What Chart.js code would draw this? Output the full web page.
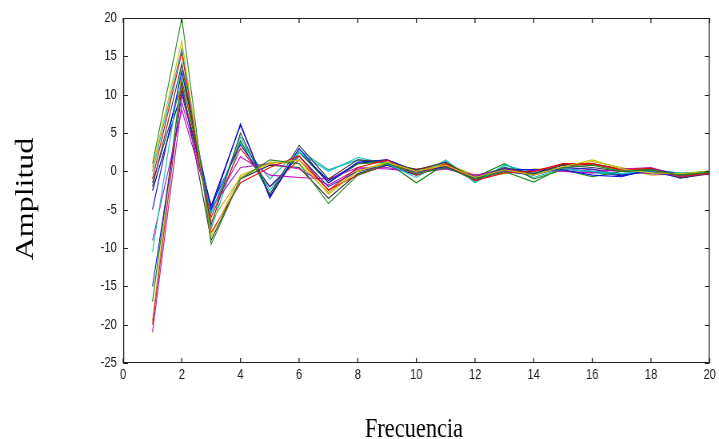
<!DOCTYPE html>
<html>
<head>
<meta charset="utf-8">
<script src="https://cdn.jsdelivr.net/npm/chart.js@4"></script>
<style>
html,body{margin:0;padding:0;background:#fff;overflow:hidden;}
#c{display:block;width:719px;height:439px;}
</style>
</head>
<body>
<canvas id="c" width="899" height="439" style="width:719px;height:439px;"></canvas>
<script>
const frequencies = [1,2,3,4,5,6,7,8,9,10,11,12,13,14,15,16,17,18,19,20];
const xTicks = [0,2,4,6,8,10,12,14,16,18,20];
const yTicks = [-25,-20,-15,-10,-5,0,5,10,15,20];
const xTitle = 'Frecuencia';
const yTitle = 'Amplitud';

const s1  = [1, 20, -9.5, -1, 1.5, 1, -4.2, -0.5, 1, -0.3, 0.5, -1, 0, -1.4, 0.5, 0.8, 0, 0.2, -0.5, -0.1];
const s2  = [0.5, 17, -8.5, -0.5, 1, 1.5, -3, 0, 1.2, 0, 0.8, -0.8, 0.2, -0.5, 0.6, 1.5, 0.3, -0.2, -0.3, 0];
const s3  = [-1, 15.5, -8, -1.5, 0.5, 2, -2.5, 0.5, 1.5, -0.5, 1, -1.2, -0.2, 0, 1, 1, 0.2, 0.4, -0.7, -0.2];
const s4  = [-2, 14, -7, 5, -3, 3.4, -1, 1.5, 1.2, 0.2, 1.2, -1, 0.5, -0.3, 0.8, 0.5, 0, 0.2, -0.5, -0.3];
const s5  = [-5, 13, -5, 6.2, -3.5, 3, -1.5, 1.2, 1.5, 0, 0.5, -0.8, 0.3, 0.2, 0.2, -0.5, -0.7, 0.3, -0.4, -0.3];
const s6  = [-10.5, 14, -5.5, 4.5, -2.5, 2.5, 0, 1.8, 1, -0.8, 1.5, -1.5, 0.8, -0.2, 0.3, 0, -0.3, 0.1, -0.2, -0.1];
const s7  = [-9, 8, -5, 1.9, -0.5, -0.8, -1, 0.5, 0.3, 0, 0.4, -0.5, 0, 0.2, 0, -0.2, 0.3, 0.5, -0.6, -0.3];
const s8  = [-15, 10, -4.5, 3.5, -2, 2, -2, 0, 0.8, -0.5, 0.8, -1, 0, -0.5, 0.5, 0.3, -0.5, 0, -0.8, -0.2];
const s9  = [-17, 12, -5.5, 4, -3, 2.5, -1.5, 1, 1.2, -1.5, 1, -0.8, 1, -1, 0.2, -0.7, 0, 0.3, -0.3, 0];
const s10 = [-20, 11, -6, 3, -2, 1.5, -2.4, -0.5, 0.8, 0.3, 0.6, -1, 0.2, 0, 0.8, 0.9, 0.2, 0.3, -0.5, -0.4];
const s11 = [-21, 9, -4.8, 0.5, 1, 0.3, -1.8, 0.3, 0.5, -0.2, 0.3, -0.6, 0.4, -0.2, 0.5, 0.2, 0, -0.3, -0.5, -0.2];
const s12 = [-19.5, 13, -6.5, -0.8, 1.2, 1, -2.8, 0.2, 1, 0.2, 1, -0.5, -0.3, 0.3, 0.3, 1.3, 0.5, -0.5, -0.3, -0.1];
const s13 = [-1.5, 11.5, -9, -1, 0.8, 0.5, -3.5, -0.3, 0.8, 0, 0.7, -1.2, 0.1, -0.4, 0.9, 1, 0.3, 0.2, -0.9, -0.3];
const s14 = [0, 16, -7.5, 3.8, -1, 2.8, 0.2, 1.5, 1, -0.3, 1.3, -1.3, 0.6, -0.8, 0.4, -0.2, -0.4, 0, -0.4, 0];
const s15 = [-2.5, 10.5, -4.5, 6, -3.3, 2.5, -1.2, 1, 1.5, 0, 0.6, -0.9, 0.2, 0.1, 0.3, 0, -0.6, 0.2, -0.4, -0.3];

const seriesList = [s1,s2,s3,s4,s5,s6,s7,s8,s9,s10,s11,s12,s13,s14,s15];
const colors = ['#2a8a2a','#c8c000','#e01010','#404040','#1010e0','#10c0c0','#c010c0','#2020c0','#108010','#d02020','#b020b0','#c0b020','#303030','#20b0b0','#000090'];

const datasets = seriesList.map((s,i)=>({
  data: s.map((v,j)=>({x: frequencies[j], y: v})),
  borderColor: colors[i % colors.length],
  borderWidth: 1.15,
  pointRadius: 0,
  fill: false,
  tension: 0
}));

const boxPlugin = {
  id: 'box',
  afterDatasetsDraw(chart){
    const {ctx, chartArea:a, scales:{x,y}} = chart;
    ctx.save();
    ctx.strokeStyle = '#202020';
    ctx.lineWidth = 1.3;
    ctx.beginPath();
    ctx.moveTo(a.left+0.6, a.top); ctx.lineTo(a.left+0.6, a.bottom);
    ctx.moveTo(a.right-0.6, a.top); ctx.lineTo(a.right-0.6, a.bottom);
    xTicks.forEach(v=>{
      const px = x.getPixelForValue(v);
      ctx.moveTo(px, a.bottom); ctx.lineTo(px, a.bottom-5);
      ctx.moveTo(px, a.top); ctx.lineTo(px, a.top+5);
    });
    ctx.stroke();
    ctx.lineWidth = 1;
    ctx.beginPath();
    ctx.moveTo(a.left, a.top+0.5); ctx.lineTo(a.right, a.top+0.5);
    ctx.moveTo(a.left, a.bottom-0.5); ctx.lineTo(a.right, a.bottom-0.5);
    yTicks.forEach(v=>{
      const py = Math.round(y.getPixelForValue(v))+0.5;
      ctx.moveTo(a.left, py); ctx.lineTo(a.left+6, py);
      ctx.moveTo(a.right, py); ctx.lineTo(a.right-6, py);
    });
    ctx.stroke();
    ctx.restore();
  },
  afterDraw(chart){
    const {ctx, chartArea:a} = chart;
    ctx.save();
    ctx.fillStyle = '#000';
    ctx.textAlign = 'center';
    ctx.textBaseline = 'alphabetic';
    ctx.font = '28px "Liberation Serif", "Times New Roman", serif';
    ctx.fillText(xTitle, (a.left + a.right)/2 - 3, 437);
    ctx.font = '32px "Liberation Serif", "Times New Roman", serif';
    ctx.translate(41, 199);
    ctx.rotate(-Math.PI/2);
    ctx.fillText(yTitle, 0, 0);
    ctx.restore();
  }
};

new Chart(document.getElementById('c'), {
  type: 'line',
  data: { datasets },
  options: {
    responsive: false,
    animation: false,
    layout: { padding: { left: 0, right: 10, top: 18, bottom: 0 } },
    plugins: { legend: { display: false }, tooltip: { enabled: false } },
    scales: {
      x: {
        type: 'linear', min: 0, max: 20,
        afterBuildTicks(s){ s.ticks = xTicks.map(v=>({value:v})); },
        afterFit(s){ s.height = 76; },
        grid: { display: false, drawTicks: false },
        border: { display: false },
        ticks: { color: '#1a1a1a', font: { family: 'Liberation Sans', size: 14 }, padding: 4, maxRotation: 0, autoSkip: false },
        title: { display: false }
      },
      y: {
        type: 'linear', min: -25, max: 20,
        afterBuildTicks(s){ s.ticks = yTicks.map(v=>({value:v})); },
        afterFit(s){ s.width = 154; },
        grid: { display: false, drawTicks: false },
        border: { display: false },
        ticks: { color: '#1a1a1a', font: { family: 'Liberation Sans', size: 14 }, padding: 8, autoSkip: false },
        title: { display: false }
      }
    }
  },
  plugins: [boxPlugin]
});
</script>
</body>
</html>
